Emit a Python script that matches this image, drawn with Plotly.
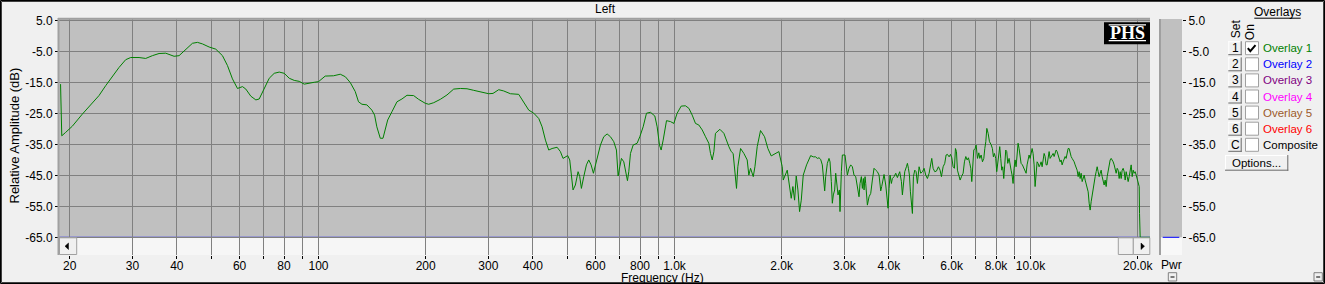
import plotly.graph_objects as go

# ---------------- data ----------------
freq_hz = [
    18.85, 18.9, 19.0, 19.48, 20.34, 21.7, 23.16, 24.17, 25.24, 26.36, 27.52, 28.73, 29.67, 31.32, 32.70,
    34.14, 35.65, 37.22, 39.29, 40.58, 42.37, 44.24, 45.70, 47.2, 49.28, 51.45, 53.72, 55.49, 57.31, 59.2,
    61.15, 62.48, 64.54, 66.67, 68.13, 70.37, 72.69, 75.08, 77.55, 80.1, 82.74, 85.46, 88.27, 91.17, 94.17, 97.27,
    100.0, 104.4, 110.2, 115.1, 118.9, 122.8, 126.8, 129.5, 132.4, 136.7, 141.2, 143.7, 145.8, 149.1, 151.7,
    154.0, 156.4, 160.8, 166.1, 171.5, 177.2, 185.0, 191.0, 199.5, 203.9, 210.6, 219.9, 229.5, 239.7, 250.3,
    261.3, 272.8, 287.9, 300.6, 309.1, 320.7, 331.2, 345.9, 365.0, 377.1, 389.5, 402.4, 415.5, 424.6, 433.9,
    443.2, 452.9, 467.8,
    477.9, 486.2, 493.6, 501.1, 507.7, 513.2, 518.7, 526.6, 535.9, 541.7, 547.5, 555.9, 565.6, 574.2, 582.9,
    591.8, 599.5, 606.0, 619.2, 632.7, 646.6, 660.7, 675.0, 686.8, 694.3, 701.8, 709.4, 720.2, 729.6, 737.5,
    743.9, 752.0, 765.1, 785.1, 798.8, 816.3, 834.1, 855.9, 880.3, 893.7, 907.3, 917.1, 929.1, 949.4, 974.2,
    995.5, 1017, 1044, 1073, 1097, 1121, 1145, 1170, 1196, 1222, 1248, 1262, 1276, 1290, 1303, 1341, 1376,
    1421, 1443, 1461, 1484, 1493, 1506, 1533, 1566, 1600, 1617, 1635, 1664, 1682, 1707, 1744, 1790, 1829,
    1869, 1922, 1964, 2007, 2020, 2073, 2109, 2127, 2150, 2174, 2197, 2221, 2245, 2270, 2299, 2349,
    2412, 2454, 2491, 2518, 2546, 2573, 2601, 2618, 2641, 2658, 2687, 2716, 2734, 2757, 2775, 2793, 2817,
    2836, 2854, 2879, 2904, 2916, 2942, 2961, 3012, 3032, 3058, 3091, 3125, 3159, 3193, 3228, 3263, 3298,
    3320, 3348, 3370, 3392, 3407, 3429, 3444, 3481, 3519, 3557, 3595, 3634, 3674, 3714, 3754, 3795, 3819,
    3852, 3877, 3920, 3945, 3979, 4005, 4031, 4066, 4092, 4137, 4182, 4227, 4255, 4291, 4338, 4366, 4394,
    4433, 4481, 4510, 4539, 4569, 4598, 4628, 4658, 4688, 4729, 4770, 4811, 4864, 4916, 4970, 5023, 5078,
    5133, 5189, 5245, 5279, 5325, 5382, 5441, 5512, 5571, 5620, 5681, 5742, 5792, 5842, 5906, 5957, 6009,
    6061, 6113, 6153, 6193, 6233, 6287, 6342, 6397, 6466, 6522, 6579, 6636, 6693, 6751, 6795, 6839, 6884,
    6928, 6988, 7034, 7095, 7156, 7203, 7265, 7328, 7392, 7440, 7488, 7537, 7602, 7668,
    7747, 7814, 7865, 7916, 7985, 8036, 8089, 8141, 8194, 8247, 8301, 8355, 8409, 8464, 8518, 8574, 8629,
    8705, 8761, 8818, 8875, 8933, 8991, 9049, 9108, 9167, 9226, 9286, 9347, 9407, 9489, 9571, 9654, 9717,
    9780, 9844, 9907, 9972, 10037, 10102, 10167, 10234, 10300, 10367, 10434, 10502, 10570, 10638, 10708,
    10778, 10847, 10918, 10989, 11060, 11132, 11204, 11277, 11350, 11424, 11498, 11573, 11648, 11724, 11800,
    11876, 11954, 12030, 12109, 12188, 12267, 12347, 12426, 12507, 12589, 12670, 12753, 12836, 12919, 13003,
    13087, 13173, 13259, 13345, 13432, 13518, 13607, 13695, 13784, 13873, 13964, 14054, 14146, 14238, 14330,
    14423, 14517, 14611, 14706, 14801, 14898, 14994, 15091, 15189, 15288, 15387, 15487, 15587, 15689, 15790,
    15893, 15996, 16099, 16204, 16310, 16415, 16522, 16629, 16737, 16846, 16956, 17066, 17177, 17287, 17400,
    17513, 17626, 17741, 17856, 17972, 18089, 18206, 18325, 18444, 18563, 18684, 18805, 18927, 19051, 19174,
    19298, 19424, 19550, 19677, 19805, 19934, 20063, 20193, 20237, 20281, 20324, 21700,
]
level_db = [
    -15.5, -24.1, -32.2, -31.1, -29.1, -25.2, -21.4, -19.2, -16.0, -13.0, -10.1, -7.6, -6.9, -6.9, -7.2,
    -6.3, -5.6, -5.5, -6.5, -6.3, -4.2, -2.3, -2.0, -2.5, -3.5, -4.2, -6.3, -9.5, -13.8, -16.9,
    -16.3, -17.1, -19.4, -20.6, -20.3, -17.1, -13.6, -12.0, -11.6, -12.0, -13.6, -14.3, -14.6, -15.5, -15.1, -14.9,
    -14.7, -12.9, -12.8, -12.3, -13.1, -15.0, -17.9, -21.2, -22.0, -22.2, -23.9, -25.5, -29.3, -33.0, -33.0,
    -29.8, -27.1, -24.4, -21.2, -20.3, -19.1, -19.2, -20.4, -21.7, -22.0, -21.5, -20.4, -19.0, -17.1, -16.9,
    -17.0, -17.5, -18.2, -18.6, -18.5, -17.3, -17.7, -18.6, -18.8, -21.2, -23.9, -24.9, -26.6, -29.3, -33.6,
    -36.8, -36.3, -35.9,
    -37.3, -39.5, -39.0, -38.6, -40.0, -45.4, -49.7, -48.1, -43.8, -45.4, -49.2, -45.4, -41.6, -40.0, -41.6,
    -44.3, -41.6, -39.0, -35.2, -32.5, -31.6, -32.5, -34.1, -36.8, -45.2, -42.2, -39.5, -40.6, -43.8, -46.7,
    -43.8, -37.9, -35.2, -34.6, -32.5, -29.3, -24.9, -24.6, -25.8, -29.3, -35.2, -36.8, -33.6, -27.3, -27.6,
    -28.2, -24.9, -22.6, -22.5, -23.3, -25.5, -28.2, -28.7, -30.3, -32.5, -34.6, -37.9, -40.0, -37.3, -31.4, -30.1, -31.4,
    -35.7, -37.3, -37.9, -45.4, -49.2, -42.2, -36.3, -37.9, -40.0, -44.9, -42.7, -45.4, -42.2, -35.7, -30.5, -32.5, -36.3,
    -38.7, -37.9, -37.3, -42.2, -46.5, -43.3, -49.2, -52.4, -48.6, -53.0, -45.2, -49.7, -56.7, -53.0, -44.9, -41.6,
    -38.6, -39.0, -39.0, -39.5, -39.3, -39.8, -41.6, -46.0, -50.0, -45.4, -41.1, -39.5, -40.6, -47.0, -54.0, -51.3, -49.7,
    -44.3, -47.0, -51.3, -49.7, -56.7, -43.8, -38.4, -38.4, -41.6, -44.9, -42.7, -41.6, -42.2, -44.9, -45.4, -48.6, -51.9,
    -47.6, -45.4, -49.2, -46.0, -49.7, -45.4, -47.6, -54.6, -51.9, -50.8, -46.5, -42.7, -43.3, -43.8, -44.9, -50.0, -48.6,
    -46.0, -44.7, -48.1, -51.3, -55.6, -49.2, -44.9, -47.6, -46.0, -45.4, -44.3, -45.7, -44.7, -43.8, -47.0, -51.3, -48.1,
    -43.8, -42.2, -41.1, -42.7, -44.9, -50.3, -53.5, -57.3, -45.4, -43.3, -43.8, -47.6, -42.2, -44.3, -43.8, -42.7, -44.9,
    -46.0, -44.3, -40.6, -39.5, -42.7, -43.8, -43.6, -42.2, -43.3, -45.4, -42.2, -41.1, -38.4, -38.2, -39.0, -38.2, -39.3,
    -42.2, -42.7, -36.3, -37.3, -43.3, -44.9, -46.5, -45.4, -44.3, -40.6, -38.9, -40.0, -39.3, -41.1, -42.7, -47.0, -41.1,
    -36.8, -36.3, -35.2, -39.5, -37.7, -39.5, -38.4, -40.6, -39.5, -36.3, -34.1, -29.8, -31.4, -34.1,
    -35.0, -36.3, -39.0, -37.9, -39.5, -43.8, -41.6, -39.5, -35.7, -39.5, -43.3, -42.2, -46.0, -41.6, -36.8, -37.3, -41.1,
    -39.5, -42.2, -43.3, -44.9, -47.6, -42.7, -40.0, -42.2, -38.4, -34.6, -36.3, -39.5, -41.1, -41.6, -42.7, -43.3, -44.3,
    -41.6, -39.5, -38.4, -39.5, -37.3, -36.3, -37.9, -41.6, -48.6, -44.3, -40.6, -41.1, -42.2, -41.6, -40.6,
    -42.2, -39.5, -37.9, -38.9, -41.6, -41.6, -39.5, -37.3, -39.5, -38.9, -38.4, -37.9, -38.9, -37.9, -36.8,
    -37.3, -38.4, -38.9, -40.6, -40.0, -41.6, -40.6, -39.5, -38.9, -39.5, -37.9, -36.3, -36.3, -37.9, -38.9,
    -39.5, -40.0, -40.6, -41.6, -42.2, -43.3, -45.4, -43.8, -46.0, -44.3, -47.0, -45.4, -44.9, -46.5, -47.6,
    -49.2, -50.3, -54.0, -56.2, -53.5, -51.3, -50.3, -46.5, -45.4, -43.8, -42.2, -43.8, -45.4, -44.3, -43.3,
    -45.4, -47.0, -48.1, -46.5, -48.6, -45.4, -43.3, -41.6, -40.0, -39.5, -40.0, -40.6, -41.6, -42.7, -44.3,
    -42.7, -43.3, -46.0, -43.8, -46.0, -43.3, -42.7, -43.8, -46.5, -43.8, -45.4, -47.0, -45.4, -42.7, -41.6,
    -45.4, -43.3, -44.3, -43.8, -44.9, -46.0, -47.0, -48.6, -57.3, -62.1, -65.0, -65.0,
]

y_tick_vals = [5, -5, -15, -25, -35, -45, -55, -65]
y_tick_text = ["5.0", "-5.0", "-15.0", "-25.0", "-35.0", "-45.0", "-55.0", "-65.0"]
x_tick_vals = [20, 30, 40, 50, 60, 70, 80, 90, 100, 200, 300, 400, 500, 600, 700, 800, 900,
               1000, 2000, 3000, 4000, 5000, 6000, 7000, 8000, 9000, 10000, 20000]
x_tick_text = ["20", "30", "40", "", "60", "", "80", "", "100", "200", "300", "400", "", "600", "",
               "800", "", "1.0k", "2.0k", "3.0k", "4.0k", "", "6.0k", "", "8.0k", "", "10.0k", "20.0k"]
y_range_db = [-70.72, 5.55]
x_range_log = [1.27097, 4.33558]
pwr_floor_db = -65.0

overlay_sets = ["1", "2", "3", "4", "5", "6", "C"]
overlay_labels = ["Overlay 1", "Overlay 2", "Overlay 3", "Overlay 4", "Overlay 5", "Overlay 6", "Composite"]
overlay_colors = ["#008000", "#0000ff", "#800080", "#ff00ff", "#9c5a2a", "#ff0000", "#000000"]
overlay_on = [True, False, False, False, False, False, False]

# ---------------- layout helpers ----------------
W, H = 1325, 284
PL, PR, PT, PB = 59, 1182, 19, 255  # paper box in pixels
FONT = "Liberation Sans, Arial, sans-serif"


def PX(x):
    return (x - PL) / (PR - PL)


def PY(y):
    return (PB - y) / (PB - PT)


shapes = []
annotations = []


def rect(x0, y0, x1, y1, fill=None, line=None, lw=1, layer="above"):
    shapes.append(dict(type="rect", xref="paper", yref="paper",
                       x0=PX(x0), x1=PX(x1), y0=PY(y1), y1=PY(y0),
                       fillcolor=fill if fill else "rgba(0,0,0,0)",
                       line=dict(color=line if line else "rgba(0,0,0,0)", width=lw if line else 0),
                       layer=layer))


def seg(x0, y0, x1, y1, color, w=1, layer="above"):
    shapes.append(dict(type="line", xref="paper", yref="paper",
                       x0=PX(x0), x1=PX(x1), y0=PY(y0), y1=PY(y1),
                       line=dict(color=color, width=w), layer=layer))


def poly(pts, fill=None, color="#000", w=1, closed=True):
    d = "M " + " L ".join(f"{PX(x):.6f},{PY(y):.6f}" for x, y in pts)
    if closed:
        d += " Z"
    shapes.append(dict(type="path", xref="paper", yref="paper", path=d,
                       fillcolor=fill if fill else "rgba(0,0,0,0)",
                       line=dict(color=color, width=w), layer="above"))


def text(x, y, s, size=12, color="#000", xanchor="center", yanchor="middle", angle=0, family=FONT):
    annotations.append(dict(x=PX(x), y=PY(y), xref="paper", yref="paper", text=s, showarrow=False,
                            xanchor=xanchor, yanchor=yanchor, textangle=angle, borderpad=0,
                            font=dict(family=family, size=size, color=color)))


def button(x0, y0, x1, y1):
    rect(x0, y0, x1, y1, fill="#f0f0f0")
    seg(x0, y0 + 0.5, x1, y0 + 0.5, "#ffffff")
    seg(x0 + 0.5, y0, x0 + 0.5, y1, "#ffffff")
    seg(x0, y1 - 0.5, x1, y1 - 0.5, "#696969")
    seg(x1 - 0.5, y0, x1 - 0.5, y1, "#696969")


# ---------------- figure ----------------
fig = go.Figure()
fig.add_trace(go.Scatter(x=freq_hz, y=level_db, mode="lines", line=dict(color="#008000", width=1),
                         xaxis="x", yaxis="y", showlegend=False, hoverinfo="skip"))
fig.add_trace(go.Scatter(x=[], y=[], xaxis="x2", yaxis="y2", showlegend=False, hoverinfo="skip"))

# scrollbar strip below the plot and -65 baseline
shapes.append(dict(type="rect", xref="paper", yref="y", x0=0, x1=PX(1150), y0=y_range_db[0], y1=pwr_floor_db,
                   fillcolor="#f6f6f6", line=dict(width=0), layer="between"))
shapes.append(dict(type="line", xref="paper", yref="y", x0=0, x1=PX(1150), y0=pwr_floor_db, y1=pwr_floor_db,
                   line=dict(color="#0000ff", width=1), layer="between"))
# scroll buttons
rect(59.5, 237.8, 76.7, 254.5, fill="#f0f0f0", line="#a0a0a0")
poly([(65, 246.2), (68.5, 243), (68.5, 249.5)], fill="#000", w=0.5)
rect(1118.3, 237.8, 1133.3, 254.5, fill="#f0f0f0", line="#a0a0a0")
rect(1133.3, 237.8, 1149.8, 254.5, fill="#f0f0f0", line="#a0a0a0")
poly([(1144.5, 246.2), (1141, 243), (1141, 249.5)], fill="#000", w=0.5)

# plot borders
seg(58, 18.8, 1150, 18.8, "#a0a0a0", 2)
seg(58.5, 18, 58.5, 255, "#a0a0a0", 2)

# Pwr meter
rect(1159, 237.3, 1182, 255, fill="#f8f8f8")
seg(1160, 19, 1160, 255, "#a0a0a0", 2)
shapes.append(dict(type="line", xref="paper", yref="y2", x0=PX(1162.7), x1=PX(1179.3), y0=pwr_floor_db,
                   y1=pwr_floor_db, line=dict(color="#0000ff", width=1), layer="above"))
text(1171.5, 264.5, "Pwr")
rect(1168.3, 272.7, 1176.7, 281, fill="#f0f0f0", line="#808080")
seg(1170.5, 277, 1174.5, 277, "#000")
rect(1314, 272.7, 1322.3, 281, fill="#f0f0f0", line="#808080")
seg(1316.2, 277, 1320.2, 277, "#000")

# PHS logo
rect(1104, 22.3, 1150, 44.3, fill="#000000")
seg(1108.7, 24.8, 1146, 24.8, "#ffffff", 1.2)
seg(1108.7, 40.6, 1146, 40.6, "#ffffff", 1.2)
text(1127.3, 33, "<b>PHS</b>", size=18, color="#ffffff", family="Liberation Serif, Times New Roman, serif")

# titles
text(605, 9, "Left")
text(662, 278.2, "Frequency (Hz)")
text(13.5, 136, "Relative Amplitude (dB)", size=13, angle=-90)

# overlay panel
text(1277.5, 12.5, "Overlays")
seg(1254.3, 18.2, 1300.7, 18.2, "#000")
text(1235.5, 28.7, "Set", angle=-90)
text(1250, 32.2, "On", angle=-90)
for i, (s, lab, col, on) in enumerate(zip(overlay_sets, overlay_labels, overlay_colors, overlay_on)):
    cy = 48.2 + 16.1 * i
    button(1228.3, cy - 7, 1241.7, cy + 7)
    text(1235, cy, s)
    rect(1245.5, cy - 6.5, 1258.5, cy + 6.5, fill="#ffffff", line="#a0a0a0")
    if on:
        poly([(1247.8, cy), (1250.3, cy + 3), (1255.5, cy - 3)], color="#000", w=2, closed=False)
    text(1261.5, cy, lab, size=11.5, color=col, xanchor="left")
button(1225, 155, 1288.3, 170.7)
text(1256.7, 163, "Options...", size=11.5)

# outer frame
rect(0.5, 0.5, 1324.5, 283.5, line="#000000")
rect(1.5, 1.5, 1323.5, 282.5, line="#404040")

axis_font = dict(family=FONT, size=12, color="#000000")
fig.update_layout(
    width=W, height=H, autosize=False,
    margin=dict(l=PL, r=W - PR, t=PT, b=H - PB, pad=0),
    paper_bgcolor="#f0f0f0", plot_bgcolor="#c0c0c0",
    hovermode=False, showlegend=False,
    xaxis=dict(type="log", range=x_range_log, domain=[0, PX(1150)], anchor="y",
               tickvals=x_tick_vals, ticktext=x_tick_text, ticks="outside", ticklen=3, tickwidth=1,
               tickcolor="#000000", showgrid=True, gridcolor="#808080", gridwidth=1,
               showline=False, zeroline=False, tickfont=axis_font, ticklabelstandoff=-3),
    yaxis=dict(range=y_range_db, domain=[0, 1], anchor="x", tickvals=y_tick_vals, ticktext=y_tick_text,
               ticks="outside", ticklen=3, tickwidth=1, tickcolor="#000000", showgrid=True,
               gridcolor="#808080", gridwidth=1, showline=False, zeroline=False, tickfont=axis_font),
    xaxis2=dict(range=[0, 1], domain=[PX(1159), 1], anchor="y2", showgrid=False, zeroline=False,
                showticklabels=False, ticks="", showline=False),
    yaxis2=dict(range=y_range_db, domain=[0, 1], anchor="x2", side="right", tickvals=y_tick_vals,
                ticktext=y_tick_text, ticks="outside", ticklen=3, tickwidth=1, tickcolor="#000000",
                showgrid=False, zeroline=False, showline=False, tickfont=axis_font),
    shapes=shapes, annotations=annotations,
)

fig.write_html("out.html", config={"displayModeBar": False, "staticPlot": True})
